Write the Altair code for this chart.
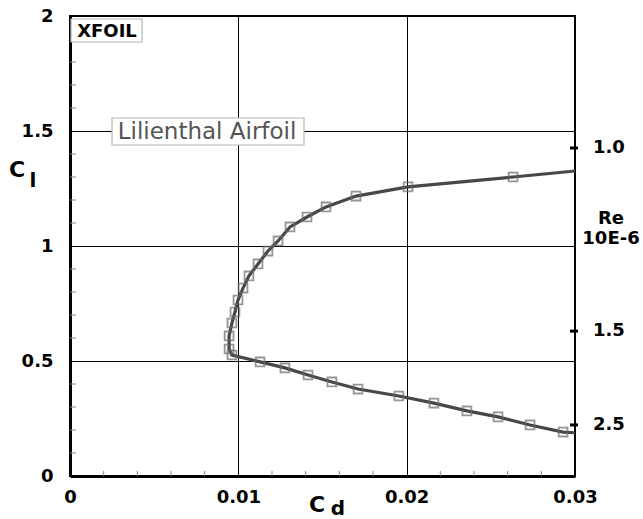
import altair as alt
import pandas as pd

# Lilienthal airfoil drag polar (XFOIL), lower branch right-to-left then upper branch
cd_lower = [0.02929, 0.02733, 0.02543, 0.02358, 0.02162, 0.01954, 0.01711,
            0.01556, 0.01414, 0.01277, 0.01129, 0.00962]
cl_lower = [0.191, 0.222, 0.257, 0.283, 0.317, 0.348, 0.378,
            0.409, 0.439, 0.470, 0.496, 0.526]
cd_upper = [0.00945, 0.00945, 0.00962, 0.00980, 0.00998, 0.01028, 0.01063,
            0.01117, 0.01176, 0.01236, 0.01307, 0.01408, 0.01521, 0.01699,
            0.02008, 0.02632]
cl_upper = [0.552, 0.609, 0.665, 0.713, 0.765, 0.817, 0.870,
            0.922, 0.978, 1.022, 1.083, 1.126, 1.170, 1.217,
            1.257, 1.300]
# curve continues to the frame edge at both ends
cd_ends = [0.0300, 0.0300]
cl_ends = [0.188, 1.326]

# Reynolds number marks on the right frame (placed at Cl height)
re_cl = [1.426, 0.630, 0.222]
re_labels = ["1.0", "1.5", "2.5"]

x_major = [0, 0.01, 0.02, 0.03]
y_major = [0, 0.5, 1, 1.5, 2]
x_minor = [0.002, 0.004, 0.006, 0.008, 0.012, 0.014, 0.016, 0.018,
           0.022, 0.024, 0.026, 0.028]
y_minor = [0.1, 0.2, 0.3, 0.4, 0.6, 0.7, 0.8, 0.9,
           1.1, 1.2, 1.3, 1.4, 1.6, 1.7, 1.8, 1.9]

W, H = 505, 460
FONT = "DejaVu Sans"

markers = pd.DataFrame({
    "cd": cd_lower + cd_upper,
    "cl": cl_lower + cl_upper,
})
curve = pd.DataFrame({
    "cd": [cd_ends[0]] + cd_lower + cd_upper + [cd_ends[1]],
    "cl": [cl_ends[0]] + cl_lower + cl_upper + [cl_ends[1]],
})
curve["order"] = range(len(curve))

xscale = alt.Scale(domain=[0, 0.03], nice=False, zero=False)
yscale = alt.Scale(domain=[0, 2], nice=False, zero=False)

x_axis = alt.Axis(values=x_major, format="~g", grid=True, gridColor="black",
                  gridWidth=1, gridOpacity=1, domainColor="black", domainWidth=3,
                  ticks=False, tickSize=0, labelFont=FONT, labelFontWeight="bold",
                  labelFontSize=18, labelColor="black", labelPadding=12,
                  labelFlush=False, title=None)
y_axis = alt.Axis(values=y_major, format="~g", grid=True, gridColor="black",
                  gridWidth=1, gridOpacity=1, domainColor="black", domainWidth=3,
                  ticks=False, tickSize=0, labelFont=FONT, labelFontWeight="bold",
                  labelFontSize=18, labelColor="black", labelPadding=17,
                  labelFlush=False, title=None)


def X(field):
    return alt.X(field, type="quantitative", scale=xscale, axis=x_axis)


def Y(field):
    return alt.Y(field, type="quantitative", scale=yscale, axis=y_axis)


line = alt.Chart(curve).mark_line(color="#474747", strokeWidth=3.2).encode(
    x=X("cd"), y=Y("cl"), order="order:Q",
)

points = alt.Chart(markers).mark_point(
    shape="square", size=78, filled=False, color="#6a6a6a", strokeWidth=1.8
).encode(x=X("cd"), y=Y("cl"))

xminor = alt.Chart(pd.DataFrame({"v": x_minor})).mark_rule(
    color="#888888", strokeWidth=1
).encode(x=X("v"), y=alt.value(H), y2=alt.value(H - 5))

yminor = alt.Chart(pd.DataFrame({"v": y_minor})).mark_rule(
    color="#888888", strokeWidth=1
).encode(y=Y("v"), x=alt.value(0), x2=alt.value(6))

re_df = pd.DataFrame({"cl": re_cl, "label": re_labels})
re_ticks = alt.Chart(re_df).mark_rule(color="black", strokeWidth=3).encode(
    y=Y("cl"), x=alt.value(W - 5), x2=alt.value(W + 3),
)
re_text = alt.Chart(re_df).mark_text(
    align="left", baseline="middle", font=FONT, fontWeight="bold",
    fontSize=18, color="black"
).encode(y=Y("cl"), x=alt.value(W + 18), text="label:N")

ann = pd.DataFrame({"k": [0]})


def label(text, x, y, size, weight="bold", color="black", align="center",
          baseline="middle"):
    return alt.Chart(ann).mark_text(
        text=text, font=FONT, fontSize=size, fontWeight=weight, color=color,
        align=align, baseline=baseline
    ).encode(x=alt.value(x), y=alt.value(y))


def box(x1, x2, y1, y2):
    return alt.Chart(ann).mark_rect(
        fill="white", stroke="#b5b5b5", strokeWidth=1.2
    ).encode(x=alt.value(x1), x2=alt.value(x2), y=alt.value(y1), y2=alt.value(y2))


xfoil_box = box(1, 72, 3, 26)
xfoil_txt = label("XFOIL", 37, 15.5, 18)
lil_box = box(42, 234, 102, 129)
lil_txt = label("Lilienthal Airfoil", 137, 116, 23, weight="normal", color="#555555")

cl_c = label("C", -53, 154, 22)
cl_l = label("l", -37, 171, 20, baseline="alphabetic")
cd_c = label("C", 247, 489, 22)
cd_d = label("d", 268, 499, 20, baseline="alphabetic")
re_t1 = label("Re", 541, 203, 18)
re_t2 = label("10E-6", 541, 223, 18)

chart = alt.layer(
    line, xminor, yminor, points, re_ticks, re_text,
    xfoil_box, xfoil_txt, lil_box, lil_txt,
    cl_c, cl_l, cd_c, cd_d, re_t1, re_t2,
).properties(
    width=W, height=H,
    padding={"left": 70, "top": 16, "right": 68, "bottom": 43},
    autosize=alt.AutoSizeParams(type="none"),
    background="white",
).configure_view(stroke="black", strokeWidth=2)

chart.save("out.html", embed_options={"renderer": "svg", "actions": False})
